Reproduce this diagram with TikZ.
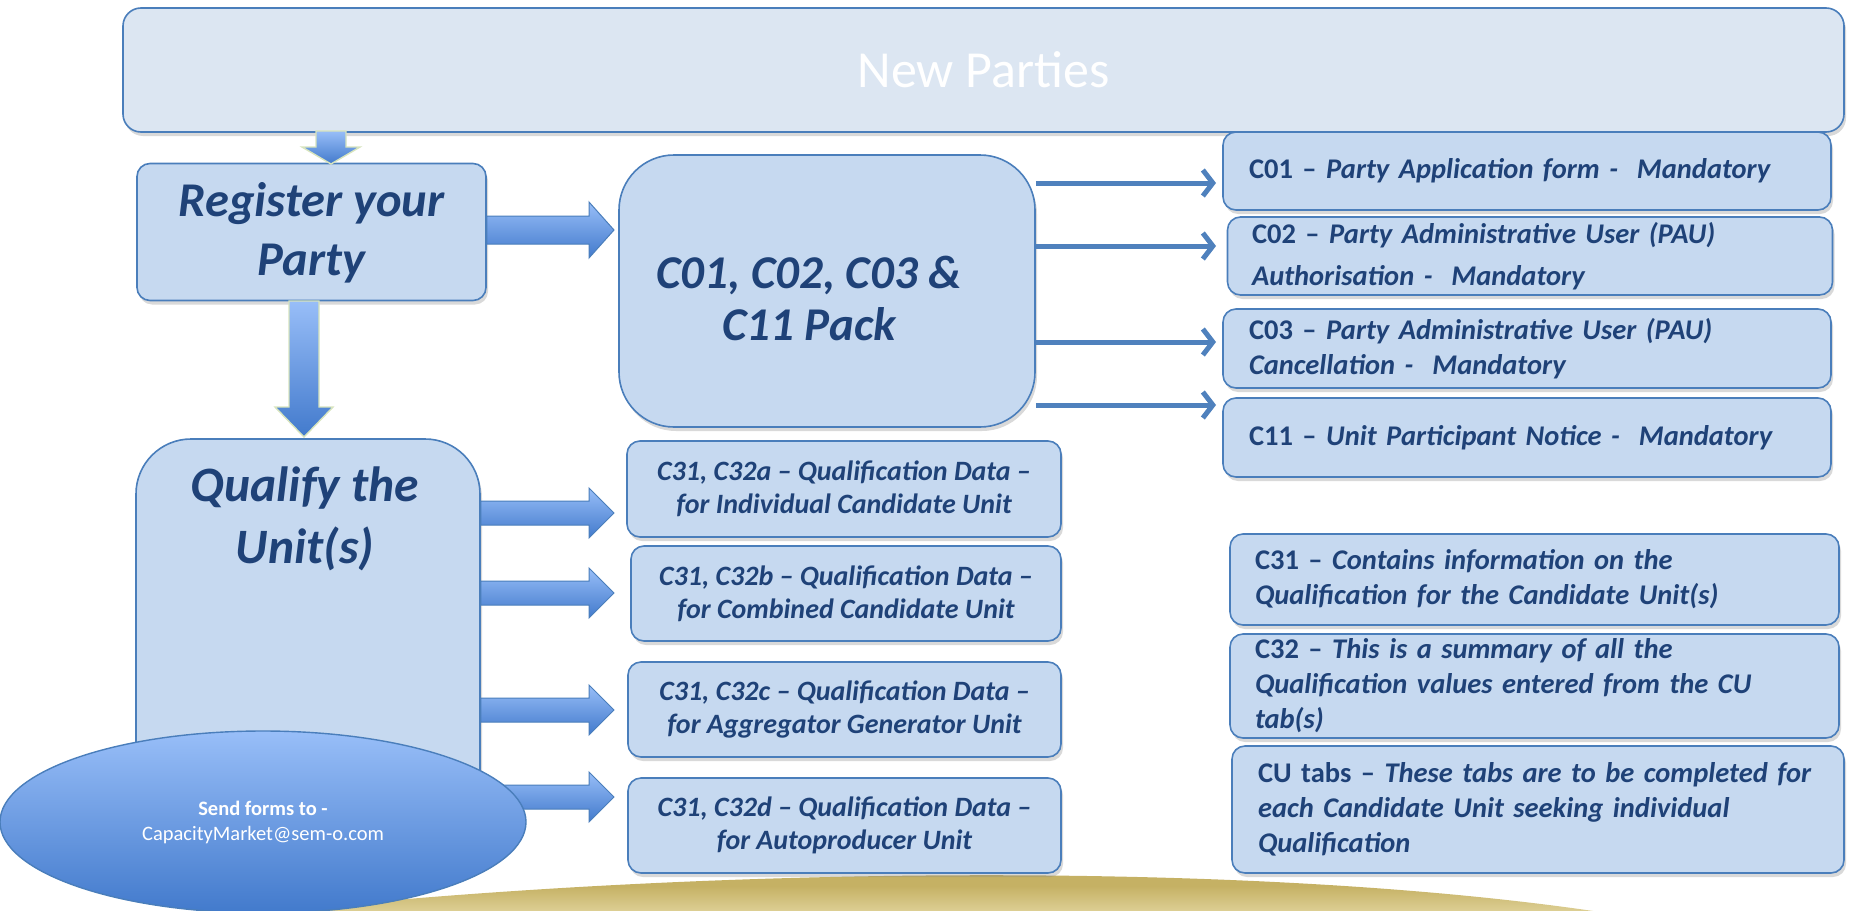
\documentclass[tikz,border=0pt]{standalone}
\usepackage{fontspec}
\setmainfont{Carlito}
\usetikzlibrary{shadows,arrows.meta,calc,shapes.geometric}
\definecolor{boxfill}{RGB}{198,217,240}
\definecolor{boxline}{RGB}{74,126,187}
\definecolor{hdrfill}{RGB}{220,230,242}
\definecolor{txt}{RGB}{31,66,120}
\definecolor{arrlight}{RGB}{152,190,248}
\definecolor{arrdark}{RGB}{66,122,204}
\definecolor{arrline}{RGB}{79,129,189}
\definecolor{paleline}{RGB}{215,228,189}
\definecolor{gold}{RGB}{197,177,100}
\definecolor{goldlight}{RGB}{222,208,150}
\newcommand\bix{\bfseries\itshape}
\newcommand\fatH[4]{%
 \path[fatarrow] let \p1=#1, \p2=#2 in
 (\x1,\y1+#3) -- (\x2-25pt,\y1+#3) -- (\x2-25pt,\y1+#4) -- (\x2,\y1)
 -- (\x2-25pt,\y1-#4) -- (\x2-25pt,\y1-#3) -- (\x1,\y1-#3) -- cycle;}
\newcommand\fatV[5]{%
 \path[fatdown] let \p1=#1, \p2=#2 in
 (\x1-#3,\y1) -- (\x1-#3,\y2+#5) -- (\x1-#4,\y2+#5) -- (\x1,\y2)
 -- (\x1+#4,\y2+#5) -- (\x1+#3,\y2+#5) -- (\x1+#3,\y1) -- cycle;}
\begin{document}
\begin{tikzpicture}[x=1pt,y=-1pt,
 box/.style={draw=boxline, line width=1.6pt, fill=boxfill, rounded corners=13pt,
   drop shadow={opacity=0.3, shadow xshift=2pt, shadow yshift=-4pt}},
 midtext/.style={text=txt, align=center, font=\fontsize{28}{33}\selectfont\bix},
 righttext/.style={text=txt, align=left, text width=556pt, font=\fontsize{28.5}{35}\selectfont\bix},
 fatarrow/.style={draw=boxline, line width=1pt, top color=arrlight, bottom color=arrdark},
 fatdown/.style={draw=paleline, line width=1.4pt, top color=arrlight, bottom color=arrdark},
 thinarr/.style={draw=arrline, line width=5pt, -{Straight Barb[length=10pt,width=26pt]}}]
\useasboundingbox (0,0) rectangle (1851,910);
% gold ground
\path[top color=gold, bottom color=goldlight, middle color=gold] (270,912) .. controls (700,866) and (1250,860) .. (1600,912) -- cycle;
% header
\node[box, fill=hdrfill, rounded corners=18pt, minimum width=1721pt, minimum height=124pt] (hdr) at (983.5,70)
 {\fontsize{52}{60}\selectfont\color{white}New Parties};
% main boxes
\node[box, minimum width=349pt, minimum height=137pt] (reg) at (311.5,232) {};
\node[text=txt, align=center, font=\fontsize{48.5}{59}\selectfont\bix] (regt) at (311.5,233) {Register your\\Party};
\node[box, rounded corners=55pt, minimum width=416pt, minimum height=272pt] (pack) at (827,291) {};
\node[text=txt, align=center, font=\fontsize{47}{52}\selectfont\bix] (packt) at (809,298) {C01, C02, C03 \&\\C11 Pack};
\node[box, rounded corners=55pt, minimum width=344pt, minimum height=410pt] (qual) at (308,644) {};
\node[text=txt, align=center, font=\fontsize{49.5}{62}\selectfont\bix] (qualt) at (305,519) {Qualify the\\Unit(s)};
% right upper boxes
\node[box, minimum width=608pt, minimum height=78pt, righttext] (c01) at (1527,171)
 {{\bfseries\upshape C01 –} Party Application form -\ \ Mandatory};
\node[box, minimum width=605pt, minimum height=78pt, righttext, font=\fontsize{28.5}{42}\selectfont\bix] (c02) at (1530,256)
 {{\bfseries\upshape C02 –} Party Administrative User (PAU)\\Authorisation -\ \ Mandatory};
\node[box, minimum width=608pt, minimum height=79pt, righttext] (c03) at (1527,348.5)
 {{\bfseries\upshape C03 –} Party Administrative User (PAU)\\Cancellation -\ \ Mandatory};
\node[box, minimum width=608pt, minimum height=79pt, righttext] (c11) at (1527,437.5)
 {{\bfseries\upshape C11 –} Unit Participant Notice -\ \ Mandatory};
% middle boxes
\node[box, minimum width=434pt, minimum height=96pt, midtext] (qa) at (844,489)
 {C31, C32a – Qualification Data –\\for Individual Candidate Unit};
\node[box, minimum width=430pt, minimum height=95pt, midtext] (qb) at (846,593.5)
 {C31, C32b – Qualification Data –\\for Combined Candidate Unit};
\node[box, minimum width=433pt, minimum height=95pt, midtext] (qc) at (844.5,709.5)
 {C31, C32c – Qualification Data –\\for Aggregator Generator Unit};
\node[box, minimum width=433pt, minimum height=95pt, midtext] (qd) at (844.5,825.5)
 {C31, C32d – Qualification Data –\\for Autoproducer Unit};
% right lower boxes
\node[box, minimum width=609pt, minimum height=91pt, righttext, text width=559pt] (n31) at (1534.5,579.5)
 {{\bfseries\upshape C31 –} Contains information on the\\Qualification for the Candidate Unit(s)};
\node[box, minimum width=609pt, minimum height=104pt, righttext, text width=559pt] (n32) at (1534.5,686)
 {{\bfseries\upshape C32 –} This is a summary of all the\\Qualification values entered from the CU\\tab(s)};
\node[box, minimum width=612pt, minimum height=127pt, righttext, text width=560pt] (ncu) at (1538,809.5)
 {{\bfseries\upshape CU tabs –} These tabs are to be completed for\\each Candidate Unit seeking individual\\Qualification};
% fat arrows
\coordinate (s0) at (331,131);
\coordinate (e0) at (331,164);
\fatV{(s0)}{(e0)}{15pt}{29pt}{17pt}
\coordinate (s1) at (304,301);
\coordinate (e1) at (304,437);
\fatV{(s1)}{(e1)}{15pt}{29pt}{30pt}
\coordinate (tp) at (614,230);
\fatH{(reg.east |- tp)}{(tp)}{14pt}{28pt}
\coordinate (ta) at (614,513);
\coordinate (tb) at (614,593);
\coordinate (tc) at (614,710);
\coordinate (td) at (614,797);
\fatH{(qual.east |- ta)}{(ta)}{12pt}{25pt}
\fatH{(qual.east |- tb)}{(tb)}{12pt}{25pt}
\fatH{(qual.east |- tc)}{(tc)}{12pt}{25pt}
\fatH{(qual.east |- td)}{(td)}{12pt}{25pt}
% thin arrows
\coordinate (u1) at (1216,183);
\coordinate (u2) at (1216,246);
\coordinate (u3) at (1216,342);
\coordinate (u4) at (1216,405);
\draw[thinarr] (pack.east |- u1) -- (u1);
\draw[thinarr] (pack.east |- u2) -- (u2);
\draw[thinarr] (pack.east |- u3) -- (u3);
\draw[thinarr] (pack.east |- u4) -- (u4);
% ellipse
\node[ellipse, draw=boxline, line width=1.4pt, top color=arrlight, bottom color=arrdark,
  minimum width=526pt, minimum height=182pt, inner sep=0pt, text=white, align=center,
  font=\fontsize{20.5}{25}\selectfont] (send) at (263,822)
 {{\bfseries Send forms to -}\\CapacityMarket@sem-o.com};
\end{tikzpicture}
\end{document}
